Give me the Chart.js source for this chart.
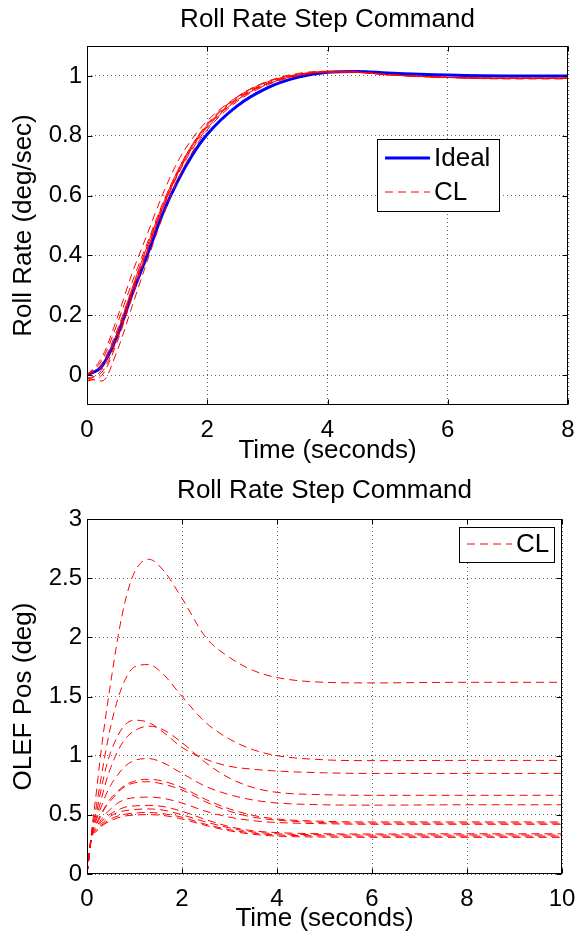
<!DOCTYPE html>
<html>
<head>
<meta charset="utf-8">
<script src="https://cdn.jsdelivr.net/npm/chart.js@4/dist/chart.umd.min.js"></script>
<style>
  html, body { margin: 0; padding: 0; background: #fff; }
  .box { position: absolute; left: 0; width: 577px; }
  #top { top: 0; height: 470px; }
  #bot { top: 470px; height: 468px; }
</style>
</head>
<body>
<div class="box" id="top"><canvas id="rateChart" width="577" height="470"></canvas></div>
<div class="box" id="bot"><canvas id="olefChart" width="577" height="468"></canvas></div>
<script>
// top plot: roll rate response
const timeTop = [0, 0.25, 0.5, 0.75, 1, 1.25, 1.5, 1.75, 2, 2.5, 3, 3.5, 4, 4.5, 5, 6, 7, 8];
const ideal = [0, 0.03, 0.13, 0.27, 0.40, 0.535, 0.645, 0.735, 0.805, 0.9, 0.96, 0.995, 1.012, 1.015, 1.01, 1.003, 1.0, 1.0];
const rateCL = [
  [0, 0.05, 0.17, 0.31, 0.44, 0.57, 0.68, 0.77, 0.835, 0.925, 0.975, 1.003, 1.013, 1.012, 1.004, 0.995, 0.992, 0.992],
  [-0.02, 0.0, 0.11, 0.26, 0.41, 0.55, 0.665, 0.755, 0.825, 0.92, 0.972, 1.002, 1.013, 1.012, 1.004, 0.995, 0.992, 0.992],
  [-0.01, -0.02, 0.08, 0.23, 0.38, 0.525, 0.65, 0.745, 0.82, 0.915, 0.97, 1.0, 1.012, 1.012, 1.004, 0.995, 0.992, 0.992],
  [0, 0.06, 0.19, 0.34, 0.47, 0.6, 0.71, 0.79, 0.85, 0.93, 0.98, 1.005, 1.015, 1.013, 1.005, 0.995, 0.992, 0.992],
  [0, 0.04, 0.15, 0.29, 0.43, 0.56, 0.675, 0.765, 0.83, 0.925, 0.975, 1.003, 1.013, 1.012, 1.004, 0.995, 0.992, 0.992],
  [-0.02, 0.02, 0.14, 0.29, 0.43, 0.565, 0.68, 0.77, 0.84, 0.93, 0.98, 1.005, 1.014, 1.012, 1.004, 0.995, 0.992, 0.992],
  [0, 0.03, 0.13, 0.28, 0.42, 0.555, 0.67, 0.76, 0.83, 0.92, 0.974, 1.002, 1.013, 1.012, 1.004, 0.995, 0.992, 0.992],
  [-0.01, 0.01, 0.12, 0.27, 0.415, 0.555, 0.67, 0.765, 0.835, 0.93, 0.982, 1.008, 1.016, 1.013, 1.004, 0.995, 0.99, 0.99],
];
const xTicksTop = [0, 2, 4, 6, 8];
const yTicksTop = [0, 0.2, 0.4, 0.6, 0.8, 1];

// bottom plot: OLEF position
const timeBot = [0, 0.1, 0.2, 0.3, 0.4, 0.5, 0.65, 0.8, 1, 1.3, 1.6, 2, 2.5, 3, 3.5, 4, 5, 6, 8, 10];
const olefCL = [
  [0, 0.37, 0.7, 1.05, 1.35, 1.62, 2.0, 2.3, 2.55, 2.66, 2.57, 2.33, 2.0, 1.83, 1.72, 1.66, 1.62, 1.615, 1.62, 1.62],
  [0, 0.35, 0.58, 0.82, 1.05, 1.25, 1.48, 1.64, 1.75, 1.77, 1.69, 1.50, 1.28, 1.14, 1.05, 1.0, 0.965, 0.958, 0.96, 0.96],
  [0, 0.35, 0.52, 0.72, 0.9, 1.03, 1.17, 1.26, 1.30, 1.28, 1.2, 1.07, 0.97, 0.91, 0.885, 0.87, 0.855, 0.85, 0.85, 0.85],
  [0, 0.34, 0.48, 0.63, 0.78, 0.9, 1.04, 1.14, 1.21, 1.25, 1.22, 1.11, 0.94, 0.81, 0.73, 0.69, 0.67, 0.665, 0.665, 0.665],
  [0, 0.34, 0.46, 0.57, 0.67, 0.75, 0.84, 0.91, 0.96, 0.975, 0.94, 0.85, 0.74, 0.67, 0.625, 0.6, 0.585, 0.582, 0.585, 0.585],
  [0, 0.33, 0.43, 0.51, 0.58, 0.64, 0.7, 0.75, 0.785, 0.8, 0.785, 0.73, 0.63, 0.55, 0.495, 0.465, 0.445, 0.44, 0.44, 0.44],
  [0, 0.33, 0.42, 0.5, 0.57, 0.62, 0.69, 0.74, 0.77, 0.78, 0.76, 0.71, 0.61, 0.53, 0.48, 0.455, 0.435, 0.43, 0.43, 0.43],
  [0, 0.32, 0.4, 0.46, 0.51, 0.55, 0.6, 0.63, 0.645, 0.65, 0.64, 0.6, 0.53, 0.48, 0.45, 0.435, 0.425, 0.42, 0.42, 0.42],
  [0, 0.32, 0.39, 0.44, 0.48, 0.51, 0.54, 0.565, 0.575, 0.58, 0.57, 0.53, 0.46, 0.4, 0.365, 0.35, 0.34, 0.338, 0.34, 0.34],
  [0, 0.32, 0.38, 0.42, 0.46, 0.49, 0.52, 0.535, 0.545, 0.55, 0.54, 0.5, 0.44, 0.39, 0.355, 0.34, 0.332, 0.33, 0.33, 0.33],
  [0, 0.31, 0.37, 0.41, 0.44, 0.465, 0.49, 0.505, 0.515, 0.52, 0.51, 0.48, 0.42, 0.375, 0.345, 0.33, 0.322, 0.32, 0.32, 0.32],
  [0, 0.31, 0.36, 0.40, 0.43, 0.45, 0.475, 0.49, 0.498, 0.502, 0.495, 0.465, 0.41, 0.365, 0.335, 0.32, 0.312, 0.31, 0.31, 0.31],
];
const xTicksBot = [0, 2, 4, 6, 8, 10];
const yTicksBot = [0, 0.5, 1, 1.5, 2, 2.5, 3];

const FONT = "'Liberation Sans', Arial, Helvetica, sans-serif";
const RED = "#ff0000";
const BLUE = "#0000ff";
const DASH = [8, 5];

Chart.defaults.font.family = FONT;
Chart.defaults.color = "#000";

function points(times, vals) {
  return times.map((t, i) => ({ x: t, y: vals[i] }));
}

function clLine(times, vals) {
  return {
    data: points(times, vals),
    borderColor: RED,
    borderWidth: 1,
    borderDash: DASH,
    pointRadius: 0,
    cubicInterpolationMode: "monotone",
  };
}

// title over the axes, box, inward tick marks and the legend (MATLAB look)
const matlabFrame = {
  id: "matlabFrame",
  afterDatasetsDraw(chart, args, opts) {
    const { ctx, chartArea: a, scales } = chart;
    ctx.save();
    ctx.strokeStyle = "#000";
    ctx.lineWidth = 1;
    const L = Math.round(a.left) + 0.5, R = Math.round(a.right) - 0.5;
    const T = Math.round(a.top) + 0.5, B = Math.round(a.bottom) - 0.5;
    ctx.strokeRect(L, T, R - L, B - T);
    ctx.beginPath();
    scales.x.ticks.forEach(t => {
      const px = Math.round(scales.x.getPixelForValue(t.value)) + 0.5;
      ctx.moveTo(px, B); ctx.lineTo(px, B - 5);
      ctx.moveTo(px, T); ctx.lineTo(px, T + 5);
    });
    scales.y.ticks.forEach(t => {
      const py = Math.round(scales.y.getPixelForValue(t.value)) + 0.5;
      ctx.moveTo(L, py); ctx.lineTo(L + 5, py);
      ctx.moveTo(R, py); ctx.lineTo(R - 5, py);
    });
    ctx.stroke();

    ctx.fillStyle = "#000";
    ctx.font = "26px " + FONT;
    ctx.textAlign = "center";
    ctx.textBaseline = "alphabetic";
    ctx.fillText(opts.title, (a.left + a.right) / 2, opts.titleBase);

    const lg = opts.legend;
    if (lg) {
      ctx.fillStyle = "#fff";
      ctx.fillRect(lg.x, lg.y, lg.w, lg.h);
      ctx.strokeStyle = "#000";
      ctx.lineWidth = 1;
      ctx.strokeRect(lg.x + 0.5, lg.y + 0.5, lg.w, lg.h);
      ctx.font = "26px " + FONT;
      ctx.textAlign = "left";
      ctx.textBaseline = "middle";
      ctx.fillStyle = "#000";
      lg.items.forEach((it, i) => {
        const yy = lg.y + lg.rowTop + i * lg.rowGap;
        ctx.beginPath();
        ctx.strokeStyle = it.color;
        ctx.lineWidth = it.width;
        ctx.setLineDash(it.dash || []);
        ctx.moveTo(lg.x + 8, yy);
        ctx.lineTo(lg.x + 53, yy);
        ctx.stroke();
        ctx.setLineDash([]);
        ctx.fillText(it.label, lg.x + 57, yy + 1);
      });
    }
    ctx.restore();
  },
};

function buildOptions(cfg) {
  return {
    responsive: false,
    animation: false,
    devicePixelRatio: 1,
    layout: { padding: { left: 0, right: cfg.padRight, top: cfg.padTop, bottom: 0 } },
    plugins: {
      legend: { display: false },
      tooltip: { enabled: false },
      title: { display: false },
      matlabFrame: { title: "Roll Rate Step Command", titleBase: cfg.titleBase, legend: cfg.legend },
    },
    scales: {
      x: {
        type: "linear",
        min: cfg.xTicks[0],
        max: cfg.xTicks[cfg.xTicks.length - 1],
        afterBuildTicks: s => { s.ticks = cfg.xTicks.map(v => ({ value: v })); },
        afterFit: s => { s.height = cfg.xHeight; s.paddingLeft = 0; s.paddingRight = 0; },
        ticks: { font: { size: 24 }, padding: 11, maxRotation: 0, callback: v => String(v) },
        grid: { color: "rgba(0,0,0,0.6)", drawTicks: false },
        border: { display: false, dash: [1, 3] },
        title: { display: true, text: "Time (seconds)", font: { size: 26 }, padding: { top: 0, bottom: 4 } },
      },
      y: {
        type: "linear",
        min: cfg.yMin,
        max: cfg.yMax,
        afterBuildTicks: s => { s.ticks = cfg.yTicks.map(v => ({ value: v })); },
        afterFit: s => { s.width = 87; s.paddingTop = 0; s.paddingBottom = 0; },
        ticks: { font: { size: 24 }, padding: 5, callback: v => String(v) },
        grid: { color: "rgba(0,0,0,0.6)", drawTicks: false },
        border: { display: false, dash: [1, 3] },
        title: { display: true, text: cfg.yTitle, font: { size: 26 }, padding: { top: 8, bottom: 0 } },
      },
    },
  };
}

const topDatasets = rateCL.map(v => clLine(timeTop, v));
topDatasets.push({
  data: points(timeTop, ideal),
  borderColor: BLUE,
  borderWidth: 3,
  pointRadius: 0,
  cubicInterpolationMode: "monotone",
});

new Chart(document.getElementById("rateChart"), {
  type: "line",
  data: { datasets: topDatasets },
  options: buildOptions({
    padRight: 9, padTop: 46, titleBase: 27,
    xTicks: xTicksTop, xHeight: 65,
    yMin: -0.1, yMax: 1.1, yTicks: yTicksTop,
    yTitle: "Roll Rate (deg/sec)",
    legend: {
      x: 377, y: 139, w: 122, h: 72, rowTop: 19, rowGap: 34,
      items: [
        { label: "Ideal", color: BLUE, width: 3 },
        { label: "CL", color: RED, width: 1, dash: DASH },
      ],
    },
  }),
  plugins: [matlabFrame],
});

new Chart(document.getElementById("olefChart"), {
  type: "line",
  data: { datasets: olefCL.map(v => clLine(timeBot, v)) },
  options: buildOptions({
    padRight: 15, padTop: 49, titleBase: 28,
    xTicks: xTicksBot, xHeight: 64,
    yMin: 0, yMax: 3, yTicks: yTicksBot,
    yTitle: "OLEF Pos (deg)",
    legend: {
      x: 459, y: 57, w: 95, h: 35, rowTop: 17, rowGap: 0,
      items: [{ label: "CL", color: RED, width: 1, dash: DASH }],
    },
  }),
  plugins: [matlabFrame],
});
</script>
</body>
</html>
